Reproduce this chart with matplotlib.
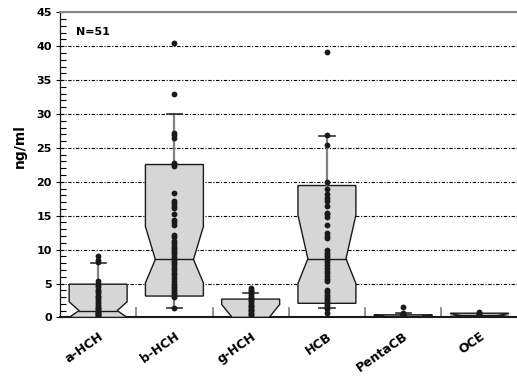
import numpy as np
import matplotlib.pyplot as plt
import matplotlib as mpl
from matplotlib.patches import Polygon

mpl.rcParams.update({'font.family': 'DejaVu Sans'})
mpl.rcParams.update({'font.weight': 'bold'})

categories = ['a-HCH', 'b-HCH', 'g-HCH', 'HCB', 'PentaCB', 'OCE']

# box statistics
q1 = [0.0, 3.15, 0.0, 2.08, 0.05, 0.1]
ci_lo = [0.0, 5.1, 0.0, 5.0, 0.1, 0.15]
med = [1.0, 8.55, 0.1, 8.65, 0.2, 0.3]
ci_hi = [2.3, 13.4, 1.9, 15.1, 0.3, 0.55]
q3 = [4.9, 22.55, 2.7, 19.45, 0.38, 0.62]
whis_lo = [None, 1.35, None, 1.34, None, None]
whis_hi = [8.0, 30.0, 3.65, 26.8, 0.7, None]

# individual samples (dots)
pts_ahch = [9.0, 8.5, 8.1, 5.3, 5.0, 4.8, 4.5, 4.1, 3.9, 3.6, 3.2, 3.0, 2.7, 2.4,
            2.1, 1.9, 1.6, 1.4, 1.2, 1.0, 0.9, 0.7, 0.6, 0.5, 0.3, 0.2, 0.1]
pts_bhch = [40.5, 33.0, 27.2, 26.9, 26.5, 22.8, 22.6, 22.3, 18.3, 17.1, 16.8, 16.5,
            16.1, 15.2, 14.4, 14.0, 13.7, 12.2, 11.8, 11.3, 11.0, 10.6, 10.2, 9.9,
            9.7, 9.3, 8.9, 8.6, 8.3, 8.0, 7.7, 7.3, 7.0, 6.6, 6.2, 5.8, 5.3, 5.0,
            4.7, 4.4, 4.1, 3.8, 3.5, 3.2, 3.05, 1.4]
pts_ghch = [4.4, 4.1, 3.9, 3.6, 3.3, 3.0, 2.8, 2.6, 2.4, 2.1, 1.9, 1.7, 1.5, 1.3,
            1.1, 0.9, 0.7, 0.5, 0.35]
pts_hcb = [39.2, 26.9, 25.4, 20.0, 18.9, 18.2, 17.6, 17.1, 16.4, 15.4, 15.25, 14.8,
           13.6, 12.4, 12.0, 11.7, 9.9, 9.5, 9.2, 8.9, 8.5, 8.1, 7.7, 7.3, 6.9,
           6.5, 6.1, 5.7, 5.3, 4.0, 3.7, 3.3, 3.0, 2.7, 2.4, 2.1, 1.8, 1.5, 1.2, 0.7]
pts_penta = [1.6, 0.7, 0.55, 0.45, 0.35, 0.25, 0.15]
pts_oce = [0.75, 0.6, 0.5, 0.4, 0.3, 0.2, 0.1, 0.0]
points = [pts_ahch, pts_bhch, pts_ghch, pts_hcb, pts_penta, pts_oce]

W, H = 517, 385
fig = plt.figure(figsize=(W/100., H/100.), dpi=100)
ax = fig.add_axes([60./W, (H-317.4)/H, 457.6/W, 305.1/H])

bw = 0.76   # box width
nw = 0.50   # notch width
cw = 0.20   # cap width
pos = np.arange(1, len(categories)+1)

for i, p in enumerate(pos):
    l, r = p-bw/2, p+bw/2
    nl, nr = p-nw/2, p+nw/2
    xy = [(l, q1[i]), (r, q1[i]), (r, ci_lo[i]), (nr, med[i]), (r, ci_hi[i]),
          (r, q3[i]), (l, q3[i]), (l, ci_hi[i]), (nl, med[i]), (l, ci_lo[i])]
    ax.add_patch(Polygon(xy, closed=True, fc='#d6d6d6', ec='#1a1a1a', lw=1.0, zorder=3))
    ax.plot([nl, nr], [med[i], med[i]], color='#1a1a1a', lw=1.0, zorder=3)
    if whis_hi[i] is not None:
        ax.plot([p, p], [q3[i], whis_hi[i]], color='#808080', lw=1.6, zorder=3)
        ax.plot([p-cw/2, p+cw/2], [whis_hi[i]]*2, color='#303030', lw=1.2, zorder=3)
    if whis_lo[i] is not None:
        ax.plot([p, p], [q1[i], whis_lo[i]], color='#808080', lw=1.6, zorder=3)
        ax.plot([p-cw/2, p+cw/2], [whis_lo[i]]*2, color='#303030', lw=1.2, zorder=3)
    ax.plot([p]*len(points[i]), points[i], 'o', color='#1a1a1a', ms=4.2, mew=0, zorder=4)

ax.set_xlim(0.5, 6.5)
ax.set_ylim(0, 45)
ax.set_yticks(np.arange(0, 46, 5))
ax.set_yticks(np.arange(0, 46, 1), minor=True)
ax.yaxis.grid(True, which='major', color='black', lw=0.8, linestyle=(0, (3, 1.5, 1, 1.5)))
ax.set_axisbelow(True)
ax.tick_params(axis='y', which='major', direction='inout', length=6, width=0.8,
               labelsize=8, pad=3)
ax.tick_params(axis='y', which='minor', direction='in', length=4, width=0.8)

ax.set_xticks(pos)
ax.set_xticklabels(categories, rotation=35, ha='right', rotation_mode='anchor',
                   fontsize=9, fontweight='bold')
ax.set_xticks(pos[:-1]+0.5, minor=True)
ax.tick_params(axis='x', which='major', length=0, pad=9)
ax.tick_params(axis='x', which='minor', direction='in', length=7, width=1.2, color='#808080')

for s in ['left', 'bottom']:
    ax.spines[s].set_color('#1a1a1a')
ax.spines['bottom'].set_linewidth(1.5)
ax.spines['left'].set_linewidth(0.9)
ax.spines['top'].set_color('#888888')
ax.spines['top'].set_linewidth(1.5)
ax.spines['right'].set_visible(False)

ax.text(0.035, 0.953, 'N=51', transform=ax.transAxes, fontsize=8, fontweight='bold',
        va='top', ha='left')
fig.text(20./W, 1-146./H, 'ng/ml', rotation=90, ha='center', va='center',
         fontsize=10, fontweight='bold')

plt.savefig('out.png', dpi=100)
